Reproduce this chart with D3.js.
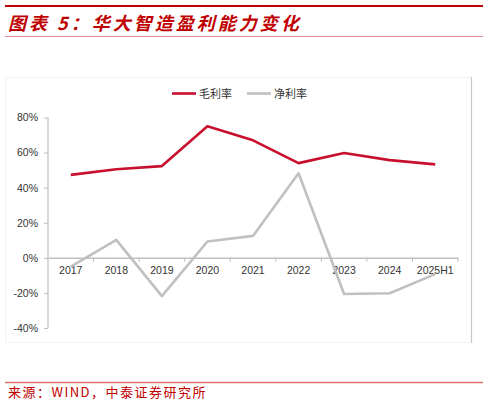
<!DOCTYPE html>
<html>
<head>
<meta charset="utf-8">
<script src="https://d3js.org/d3.v7.min.js"></script>
<style>
  body { margin: 0; background: #fff; }
  svg { display: block; }
</style>
</head>
<body>
<div id="chart"></div>
<script>
// data
var years = ["2017", "2018", "2019", "2020", "2021", "2022", "2023", "2024", "2025H1"];
var grossMargin = [47.3, 50.5, 52.3, 75.0, 67.0, 54.0, 59.8, 55.7, 53.3];
var netMargin = [-5.0, 10.2, -21.8, 9.3, 12.5, 48.2, -20.6, -20.2, -9.3];
var yTicks = [-40, -20, 0, 20, 40, 60, 80];
var seriesNames = ["毛利率", "净利率"];
var seriesColors = ["#c8102e", "#c0c0c0"];

var W = 488, H = 406;
var svg = d3.select("#chart").append("svg").attr("width", W).attr("height", H);

// header and footer rules
svg.append("line").attr("x1", 5).attr("x2", 483).attr("y1", 6).attr("y2", 6)
  .attr("stroke", "#c00000").attr("stroke-width", 2);
svg.append("line").attr("x1", 5).attr("x2", 483).attr("y1", 36.5).attr("y2", 36.5)
  .attr("stroke", "#e39090").attr("stroke-width", 1);
svg.append("text").attr("x", 8).attr("y", 30)
  .attr("fill", "#c00000")
  .style("font-family", "'Noto Sans CJK SC', sans-serif")
  .style("font-size", "18px").style("font-weight", "bold").style("font-style", "italic")
  .style("letter-spacing", "3px")
  .text("图表 5：华大智造盈利能力变化");

svg.append("line").attr("x1", 5).attr("x2", 483).attr("y1", 382.5).attr("y2", 382.5)
  .attr("stroke", "#e07070").attr("stroke-width", 1.5);
svg.append("text").attr("x", 8).attr("y", 397)
  .attr("fill", "#c00000")
  .style("font-family", "'Noto Sans CJK SC', sans-serif")
  .style("font-size", "13px")
  .style("letter-spacing", "1.5px")
  .text("来源：WIND，中泰证券研究所");

// chart frame
svg.append("rect").attr("x", 5.5).attr("y", 77.5).attr("width", 466).attr("height", 265)
  .attr("fill", "none").attr("stroke", "#f3f3f3");
svg.append("line").attr("x1", 471.5).attr("x2", 471.5).attr("y1", 77).attr("y2", 343)
  .attr("stroke", "#c8c8c8").attr("stroke-width", 1.2);

// scales
var x = d3.scaleBand().domain(years).range([48, 458]);
var y = d3.scaleLinear().domain([-40, 80]).range([328, 117.5]);

var g = svg.append("g");

// y axis
var yAxis = g.append("g").attr("transform", "translate(48,0)")
  .call(d3.axisLeft(y).tickValues(yTicks).tickSize(4).tickPadding(6)
    .tickFormat(function (d) { return d + "%"; }));
yAxis.select(".domain").attr("stroke", "#bfbfbf").attr("stroke-width", 1.2)
  .attr("d", "M0," + y(80) + "V" + y(-40));
yAxis.selectAll(".tick line").attr("stroke", "#bfbfbf");
yAxis.selectAll("text").attr("fill", "#333")
  .style("font-family", "Arial, 'Liberation Sans', sans-serif").style("font-size", "10.5px");

// x axis at 0%
var xAxis = g.append("g").attr("transform", "translate(0," + y(0) + ")")
  .call(d3.axisBottom(x).tickSize(0).tickPadding(9));
xAxis.select(".domain").attr("stroke", "#bfbfbf").attr("stroke-width", 1.5);
xAxis.selectAll("text").attr("fill", "#333")
  .style("font-family", "Arial, 'Liberation Sans', sans-serif").style("font-size", "10.5px");
// tick marks between categories
xAxis.selectAll(".sep").data(years).enter().append("line")
  .attr("x1", function (d) { return x(d) + x.bandwidth(); })
  .attr("x2", function (d) { return x(d) + x.bandwidth(); })
  .attr("y1", 0).attr("y2", 4)
  .attr("stroke", "#bfbfbf");

// lines
var line = d3.line()
  .x(function (d, i) { return x(years[i]) + x.bandwidth() / 2; })
  .y(function (d) { return y(d); });

[netMargin, grossMargin].forEach(function (vals, k) {
  var idx = k === 0 ? 1 : 0;
  g.append("path").datum(vals)
    .attr("d", line)
    .attr("fill", "none")
    .attr("stroke", seriesColors[idx])
    .attr("stroke-width", 2.6)
    .attr("stroke-linejoin", "round");
});

// legend
var legend = svg.append("g");
var legendX = [172, 247];
seriesNames.forEach(function (name, i) {
  legend.append("line").attr("x1", legendX[i]).attr("x2", legendX[i] + 24)
    .attr("y1", 93.5).attr("y2", 93.5)
    .attr("stroke", seriesColors[i]).attr("stroke-width", 2.6);
  legend.append("text").attr("x", legendX[i] + 27).attr("y", 97.5)
    .attr("fill", "#333")
    .style("font-family", "'Noto Sans CJK SC', sans-serif")
    .style("font-size", "11px")
    .text(name);
});
</script>
</body>
</html>
